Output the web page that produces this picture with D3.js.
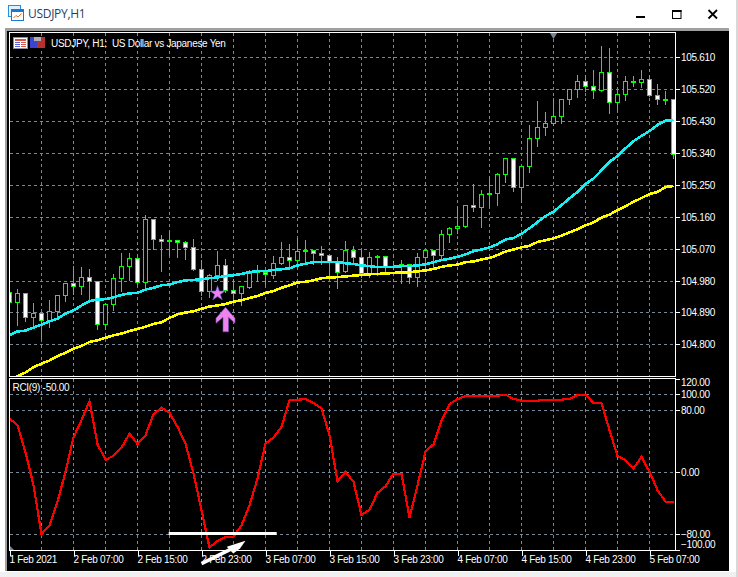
<!DOCTYPE html>
<html>
<head>
<meta charset="utf-8">
<script src="https://cdn.jsdelivr.net/npm/d3@7"></script>
<style>
  html, body { margin: 0; padding: 0; background: #fff; overflow: hidden; }
  svg { display: block; }
  text { font-family: "Liberation Sans", sans-serif; font-size: 10px; letter-spacing: -0.3px; fill: #fff; }
</style>
</head>
<body>
<svg id="chart" width="738" height="577"></svg>
<script>
// OHLC, one entry per H1 bar
const opens = [104.947,104.919,104.944,104.877,104.888,104.865,104.894,104.939,104.973,104.964,104.990,104.978,104.857,104.913,104.987,105.021,105.043,104.975,105.153,105.097,105.094,105.094,105.088,105.074,105.012,104.950,104.995,105.023,104.954,104.946,104.963,105.008,105.004,104.997,105.029,105.046,105.037,105.063,105.066,105.057,105.052,105.034,105.006,105.066,105.046,105.001,105.046,105.049,105.021,105.022,105.028,104.991,105.046,105.066,105.051,105.110,105.127,105.135,105.193,105.186,105.223,105.226,105.280,105.325,105.243,105.302,105.382,105.413,105.423,105.443,105.492,105.520,105.543,105.528,105.517,105.568,105.483,105.506,105.541,105.539,105.548,105.503,105.493,105.492];
const highs = [104.947,104.958,104.944,104.920,104.888,104.928,104.942,104.973,105.024,105.022,105.015,104.978,104.919,105.001,105.061,105.061,105.043,105.168,105.153,105.112,105.122,105.097,105.095,105.100,105.040,105.001,105.067,105.043,104.987,104.964,105.012,105.026,105.008,105.052,105.091,105.086,105.104,105.097,105.066,105.080,105.052,105.050,105.094,105.080,105.069,105.064,105.054,105.052,105.038,105.040,105.029,105.061,105.066,105.069,105.126,105.134,105.189,105.196,105.255,105.238,105.276,105.287,105.328,105.325,105.307,105.420,105.490,105.457,105.495,105.495,105.523,105.561,105.561,105.575,105.645,105.637,105.520,105.558,105.558,105.577,105.563,105.537,105.518,105.492];
const lows = [104.919,104.858,104.869,104.848,104.822,104.853,104.877,104.926,104.944,104.946,104.927,104.847,104.845,104.901,104.954,104.984,104.973,104.958,105.071,105.010,105.054,105.050,105.044,105.012,104.941,104.935,104.985,104.950,104.921,104.914,104.963,104.982,104.974,104.990,105.029,105.015,105.024,105.032,105.029,105.029,104.990,104.962,105.006,105.029,104.993,104.993,104.999,105.001,105.015,104.977,104.977,104.968,105.010,105.020,105.043,105.092,105.116,105.135,105.180,105.134,105.196,105.196,105.261,105.236,105.203,105.288,105.363,105.394,105.421,105.426,105.479,105.501,105.518,105.496,105.516,105.454,105.465,105.493,105.531,105.528,105.502,105.479,105.479,105.329];
const closes = [104.919,104.944,104.877,104.888,104.868,104.894,104.939,104.973,104.964,104.990,104.978,104.857,104.913,104.987,105.021,105.043,104.975,105.153,105.097,105.091,105.091,105.088,105.074,105.012,104.950,104.995,105.023,104.952,104.946,104.964,105.001,105.007,104.998,105.029,105.046,105.037,105.063,105.066,105.057,105.052,105.034,105.003,105.066,105.046,105.001,105.046,105.049,105.020,105.022,105.028,104.991,105.046,105.066,105.052,105.111,105.128,105.135,105.193,105.186,105.224,105.227,105.280,105.325,105.244,105.303,105.382,105.413,105.424,105.444,105.492,105.520,105.543,105.528,105.517,105.568,105.483,105.506,105.543,105.543,105.548,105.503,105.492,105.491,105.337];

// moving averages on the price window
const maCyan = [104.827,104.838,104.840,104.849,104.857,104.866,104.874,104.888,104.897,104.911,104.923,104.928,104.929,104.934,104.941,104.945,104.947,104.956,104.961,104.968,104.970,104.977,104.982,104.983,104.985,104.988,104.990,104.994,104.996,105.000,105.005,105.008,105.008,105.011,105.013,105.016,105.024,105.029,105.033,105.034,105.034,105.034,105.030,105.028,105.024,105.022,105.019,105.019,105.020,105.022,105.022,105.024,105.027,105.033,105.039,105.043,105.048,105.055,105.064,105.069,105.075,105.084,105.097,105.101,105.113,105.129,105.146,105.163,105.175,105.194,105.213,105.231,105.253,105.269,105.292,105.316,105.332,105.354,105.374,105.389,105.403,105.420,105.432,105.434];
const maYellow = [104.703,104.712,104.722,104.737,104.747,104.756,104.768,104.778,104.789,104.797,104.808,104.813,104.820,104.827,104.832,104.839,104.845,104.851,104.859,104.864,104.876,104.886,104.891,104.895,104.902,104.908,104.911,104.915,104.922,104.926,104.932,104.938,104.946,104.952,104.961,104.968,104.976,104.978,104.982,104.988,104.990,104.991,104.993,104.995,104.997,104.999,105.000,105.001,105.003,105.004,105.005,105.007,105.010,105.014,105.020,105.024,105.026,105.033,105.035,105.041,105.045,105.053,105.063,105.069,105.075,105.079,105.090,105.095,105.100,105.108,105.117,105.126,105.137,105.145,105.159,105.167,105.180,105.191,105.203,105.214,105.225,105.231,105.245,105.248];

// RCI(9) sub window
const rci = [69.5,60.9,25.8,-16.3,-79.4,-67.8,-37.8,0.9,45.1,67.4,91.8,36.5,16.3,21.5,31.8,50.2,36.5,48.1,74.7,83.3,76.8,58.8,37.3,-1.3,-48.5,-96.6,-88,-82.8,-82.8,-67.8,-42.1,-7.7,37.3,45.1,58.8,93.1,93.6,94.4,89.7,82.4,48.1,-11.2,0.9,-12,-54.9,-47.6,-26.2,-17.6,-1.7,-1.7,-57.9,-16.3,26.6,36.5,66.5,88,94.4,98.3,98.7,98.7,98.7,98.7,100,94.8,92.3,92.3,92.3,93.6,93.6,93.6,94.8,99.6,100,89.3,89.3,54.5,21,15.9,5.2,20.2,0.9,-22.7,-37.8,-37.8];

const priceTicks = [105.61,105.52,105.43,105.34,105.25,105.16,105.07,104.98,104.89,104.80];
const rciTicks = [120,100,80,0,-80,-100];
const rciGrid = [100,80,0,-80];
const timeBars = [0,8,16,24,32,40,48,56,64,72,80];
const timeLabels = ["1 Feb 2021","2 Feb 07:00","2 Feb 15:00","2 Feb 23:00","3 Feb 07:00","3 Feb 15:00","3 Feb 23:00","4 Feb 07:00","4 Feb 15:00","4 Feb 23:00","5 Feb 07:00"];

// hand drawn marks on the chart
const starMark = [26, 104.945];
const arrowMark = [27, 104.906];
const levelBars = [19.9, 33.4];
const levelRci = -78.5;
const slashBars = [24, 29.5];
const slashRci = [-117.3, -88];

const bars = opens.map((o, i) => ({ i, o, h: highs[i], l: lows[i], c: closes[i] }));

const svg = d3.select("#chart");
const left = 9.5, right = 675.5;
const mainTop = 32.5, mainBottom = 376.5;
const subTop = 378.5, subBottom = 550.5;

const x = d3.scaleLinear().domain([0, 83]).range([9.5, 673.5]);
const y = d3.scaleLinear().domain([104.80, 105.61]).range([344.9, 57.5]);
const yRci = d3.scaleLinear().domain([-100, 120]).range([550.2, 379.2]);
const snap = v => Math.floor(v) + 0.5;
const grid = "#778899";

// terminal window frame
svg.append("rect").attr("width", 738).attr("height", 577).attr("fill", "#fff");
svg.append("rect").attr("x", 5).attr("y", 28).attr("width", 724).attr("height", 543).attr("fill", "#a0a0a0");
svg.append("rect").attr("x", 7).attr("y", 31).attr("width", 722).attr("height", 540).attr("fill", "#000");
svg.append("rect").attr("x", 0).attr("y", 572).attr("width", 738).attr("height", 5).attr("fill", "#f0f0f0");
svg.append("rect").attr("x", 736).attr("y", 0).attr("width", 2).attr("height", 577).attr("fill", "#d8d8d8");

// title bar icon
const ico = svg.append("g");
ico.append("rect").attr("x", 8.5).attr("y", 5.5).attr("width", 12).attr("height", 11).attr("fill", "#dff0ff").attr("stroke", "#2b8fdc");
ico.append("rect").attr("x", 11.5).attr("y", 9.5).attr("width", 12).attr("height", 11).attr("fill", "#fff").attr("stroke", "#1c78cf");
ico.append("rect").attr("x", 11.5).attr("y", 9.5).attr("width", 12).attr("height", 2.5).attr("fill", "#1c78cf");
ico.append("path").attr("d", "M13.5 18L16 15.5L18 17L21.5 13.5").attr("fill", "none").attr("stroke", "#e8692a");

svg.append("text").attr("x", 28).attr("y", 18).text("USDJPY,H1")
  .style("font-family", "'Open Sans', sans-serif").style("font-size", "12px").style("letter-spacing", "-0.3px").style("fill", "#1f3f66");

// window buttons
svg.append("rect").attr("x", 636).attr("y", 16).attr("width", 9).attr("height", 2).attr("fill", "#000");
svg.append("rect").attr("x", 672.5).attr("y", 10.5).attr("width", 8.5).attr("height", 8).attr("fill", "none").attr("stroke", "#000").attr("stroke-width", 1);
svg.append("rect").attr("x", 672).attr("y", 10).attr("width", 9.5).attr("height", 2).attr("fill", "#000");
svg.append("path").attr("d", "M708.5 10L717 18.5M717 10L708.5 18.5").attr("stroke", "#000").attr("stroke-width", 1.8).attr("fill", "none");

// clip paths for both windows
const defs = svg.append("defs");
defs.append("clipPath").attr("id", "clipMain").append("rect")
  .attr("x", left).attr("y", mainTop).attr("width", right - left).attr("height", mainBottom - mainTop);
defs.append("clipPath").attr("id", "clipSub").append("rect")
  .attr("x", left).attr("y", subTop).attr("width", right - left).attr("height", subBottom - subTop);

// grid
const gridG = svg.append("g").attr("stroke", grid).attr("stroke-dasharray", "3,3").attr("shape-rendering", "crispEdges");
const vBars = d3.range(4, 84, 4);
[[mainTop, mainBottom], [subTop, subBottom]].forEach(([t, b]) => {
  gridG.append("g").selectAll("line").data(vBars).enter().append("line")
    .attr("x1", d => x(d)).attr("x2", d => x(d)).attr("y1", t).attr("y2", b);
});
gridG.append("g").selectAll("line").data(priceTicks).enter().append("line")
  .attr("x1", left).attr("x2", right).attr("y1", d => snap(y(d))).attr("y2", d => snap(y(d)));
gridG.append("g").selectAll("line").data(rciGrid).enter().append("line")
  .attr("x1", left).attr("x2", right).attr("y1", d => snap(yRci(d))).attr("y2", d => snap(yRci(d)));

// candles
const candles = svg.append("g").attr("clip-path", "url(#clipMain)").attr("shape-rendering", "crispEdges");
candles.selectAll("line").data(bars).enter().append("line")
  .attr("x1", d => x(d.i)).attr("x2", d => x(d.i))
  .attr("y1", d => snap(y(d.h))).attr("y2", d => snap(y(d.l)) + 1)
  .attr("stroke", "#00ff00");
candles.selectAll("rect").data(bars).enter().append("rect")
  .attr("x", d => x(d.i) - 2)
  .attr("width", 4)
  .attr("y", d => snap(y(Math.max(d.o, d.c))))
  .attr("height", d => Math.max(1, snap(y(Math.min(d.o, d.c))) - snap(y(Math.max(d.o, d.c)))))
  .attr("fill", d => d.c < d.o ? "#fff" : "#000")
  .attr("stroke", "#00ff00");

// moving averages
const maLine = d3.line().x((d, i) => x(i)).y(d => y(d));
const maG = svg.append("g").attr("clip-path", "url(#clipMain)").attr("fill", "none").attr("stroke-width", 2.6).attr("shape-rendering", "crispEdges");
maG.append("path").attr("d", maLine(maYellow)).attr("stroke", "#ffff00");
maG.append("path").attr("d", maLine(maCyan)).attr("stroke", "#19eef2");

// rci
const rciLine = d3.line().x((d, i) => x(i)).y(d => yRci(d));
svg.append("path").attr("clip-path", "url(#clipSub)").attr("d", rciLine(rci))
  .attr("fill", "none").attr("stroke", "#ff0000").attr("stroke-width", 2.2).attr("shape-rendering", "crispEdges");

// panel frames
[[mainTop, mainBottom], [subTop, subBottom]].forEach(([t, b]) => {
  svg.append("rect").attr("x", left).attr("y", t).attr("width", right - left).attr("height", b - t)
    .attr("fill", "none").attr("stroke", "#fff").attr("shape-rendering", "crispEdges");
});

// axes
const priceAxis = d3.axisRight(d3.scaleLinear().domain(y.domain()).range(y.range()))
  .tickValues(priceTicks).tickFormat(d3.format(".3f")).tickSize(4).tickPadding(1.5);
const rciAxis = d3.axisRight(yRci).tickValues(rciTicks).tickFormat(d3.format(".2f")).tickSize(4).tickPadding(1.5);
const timeAxis = d3.axisBottom(x).tickValues(timeBars).tickFormat((d, i) => timeLabels[i]).tickSize(5).tickPadding(2);

function styleAxis(g) {
  g.select(".domain").remove();
  g.selectAll("line").attr("stroke", "#fff").attr("shape-rendering", "crispEdges");
  g.selectAll("text").attr("font-family", null).attr("font-size", null);
}
svg.append("g").attr("transform", `translate(${right},0)`).call(priceAxis).call(styleAxis)
  .selectAll(".tick").attr("transform", d => `translate(0,${snap(y(d))})`);
const rciG = svg.append("g").attr("transform", `translate(${right},0)`).call(rciAxis).call(styleAxis);
rciG.selectAll(".tick").attr("transform", d => `translate(0,${snap(yRci(d))})`);
// edge labels stay inside the window height
rciG.selectAll("text").attr("y", d => d === 120 ? 3.5 : d === -100 ? -6 : 0);
const timeG = svg.append("g").attr("transform", `translate(0,${subBottom})`).call(timeAxis).call(styleAxis);
timeG.selectAll("text").attr("text-anchor", "start").attr("x", -0.5).attr("y", 5.5);

// chart headers
svg.append("text").attr("x", 51).attr("y", 46.5).text("USDJPY, H1:  US Dollar vs Japanese Yen").attr("xml:space", "preserve").style("white-space", "pre");
svg.append("text").attr("x", 12.5).attr("y", 391).text("RCI(9) -50.00");

// small toolbar icons in the header
const hdr = svg.append("g").attr("shape-rendering", "crispEdges");
hdr.append("rect").attr("x", 13.5).attr("y", 37.5).attr("width", 14).attr("height", 11).attr("fill", "#fff").attr("stroke", "#8a8aa0");
hdr.append("rect").attr("x", 15).attr("y", 39).attr("width", 11).attr("height", 2).attr("fill", "#d8564a");
[42, 44, 46].forEach(r => {
  hdr.append("rect").attr("x", 15).attr("y", r).attr("width", 5).attr("height", 1).attr("fill", "#5a64d8");
  hdr.append("rect").attr("x", 21).attr("y", r).attr("width", 5).attr("height", 1).attr("fill", "#d8564a");
});
hdr.append("rect").attr("x", 30).attr("y", 37).attr("width", 7).attr("height", 11).attr("fill", "#3a46d0");
hdr.append("rect").attr("x", 37).attr("y", 37).attr("width", 8).attr("height", 11).attr("fill", "#b83030");
hdr.append("rect").attr("x", 34).attr("y", 37).attr("width", 7).attr("height", 4).attr("fill", "#b0b0b0");

// chart shift and scale markers
svg.append("path").attr("d", d3.symbol(d3.symbolTriangle, 22)()).attr("fill", grid)
  .attr("transform", `translate(${x(68)},35) rotate(180)`);
svg.append("path").attr("d", "M10 550V546L14 550Z").attr("fill", grid);

// star and up arrow
svg.append("path").attr("d", d3.symbol(d3.symbolStar, 72)())
  .attr("transform", `translate(${x(starMark[0])},${y(starMark[1])})`)
  .attr("fill", "#ee82ee").attr("stroke", "#5050c0").attr("stroke-width", 0.6);
const ax = x(arrowMark[0]), ay = y(arrowMark[1]);
const upArrow = d3.path();
upArrow.moveTo(0, 0); upArrow.lineTo(9.5, 11); upArrow.lineTo(9.5, 16); upArrow.lineTo(3, 10);
upArrow.lineTo(3, 24.5); upArrow.lineTo(-2.5, 24.5); upArrow.lineTo(-2.5, 10); upArrow.lineTo(-9.5, 16); upArrow.lineTo(-9.5, 11); upArrow.closePath();
svg.append("path").attr("d", upArrow.toString()).attr("transform", `translate(${ax},${ay})`)
  .attr("fill", "#ee82ee").attr("stroke", "#7a4fb0").attr("stroke-width", 0.6);

// white level line and slash arrow under the rci dip
svg.append("line").attr("x1", x(levelBars[0])).attr("x2", x(levelBars[1]))
  .attr("y1", yRci(levelRci)).attr("y2", yRci(levelRci)).attr("stroke", "#fff").attr("stroke-width", 3);
const tx = x(slashBars[1]), ty = yRci(slashRci[1]);
svg.append("line").attr("x1", x(slashBars[0])).attr("y1", yRci(slashRci[0]))
  .attr("x2", tx - 10).attr("y2", ty + 6).attr("stroke", "#fff").attr("stroke-width", 3.4);
svg.append("path").attr("d", d3.line()([[tx, ty], [tx - 18.8, ty + 6], [tx - 12.2, ty + 12.6], [tx - 5.5, ty + 7.6]]) + "Z").attr("fill", "#fff");
</script>
</body>
</html>
